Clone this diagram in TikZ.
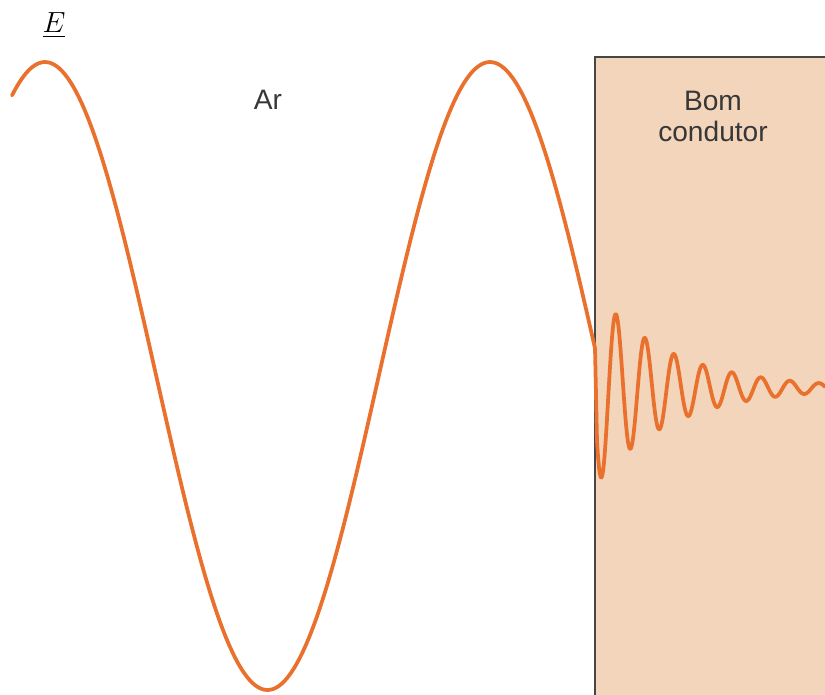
\documentclass[tikz,border=0pt]{standalone}
\usepackage{amsmath}
\usepackage{fontspec}
\setsansfont{Liberation Sans}
\usepackage{tikz}
\definecolor{wavecolor}{RGB}{233,113,45}
\definecolor{conductorcolor}{RGB}{243,213,187}
\definecolor{bordercolor}{RGB}{70,70,70}
\definecolor{labelcolor}{RGB}{55,55,55}

\begin{document}
\begin{tikzpicture}[x=0.03cm, y=-0.03cm, font=\sffamily]
    % Define the styles for the conductor, the wave and the labels
    \tikzstyle{conductor} = [draw=bordercolor, line width=1.9pt, fill=conductorcolor]
    \tikzstyle{wave} = [draw=wavecolor, line width=3.2pt, line join=round, line cap=round]
    \tikzstyle{label} = [text=labelcolor, align=center, font=\sffamily\fontsize{24}{26.5}\selectfont]

    \clip (0,0) rectangle (825,694);

    % Good conductor region (extends beyond the right and bottom edges)
    \draw[conductor] (595,57) rectangle (840,710);

    % Field in air, then damped inside the conductor
    \draw[wave] plot[domain=12:595, samples=200] (\x, {376-314*cos(0.80899*(\x-45))})
        -- plot[domain=597:825, samples=500] (\x, {388-95*exp(-(\x-597)/75)*cos(12.4138*(\x-616))});

    % Labels
    \node[label] (air) at (268,100) {Ar};
    \node[label] (good) at (713,116) {Bom\\condutor};
    \node[font=\fontsize{32}{34}\selectfont] (field) at (54,25) {$\underline{E}$};
\end{tikzpicture}
\end{document}
